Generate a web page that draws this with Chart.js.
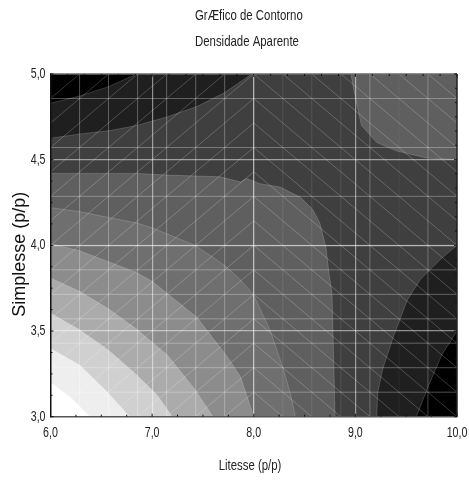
<!DOCTYPE html>
<html><head><meta charset="utf-8">
<style>html,body{margin:0;padding:0;background:#fff}canvas{display:block}</style>
<script src="https://cdn.jsdelivr.net/npm/chart.js@4"></script>
</head><body><canvas id="c" width="469" height="483"></canvas>
<script>
const titleLines = ['GrÆfico de Contorno', 'Densidade Aparente'];
const xAxisTitle = 'Litesse (p/p)';
const yAxisTitle = 'Simplesse (p/p)';
const xTickValues = [6, 7, 8, 9, 10];
const xTickLabels = ['6,0', '7,0', '8,0', '9,0', '10,0'];
const yTickValues = [3, 3.5, 4, 4.5, 5];
const yTickLabels = ['3,0', '3,5', '4,0', '4,5', '5,0'];

// Surface mesh positions (data units)
const meshX = [6, 6.286, 6.571, 6.857, 7.143, 7.429, 7.714, 8, 8.286, 8.571, 8.857, 9.143, 9.429, 9.714, 10];
const meshY = [3, 3.143, 3.286, 3.429, 3.571, 3.714, 3.857, 4, 4.143, 4.286, 4.429, 4.571, 4.714, 4.857, 5];
const meshXVisible = [6.286, 6.571, 6.857, 7.143, 7.429, 7.714, 8, 8.286, 8.571, 8.857, 9.143, 9.429, 9.714];
const meshXStrength = [0.3, 0.3, 0.3, 0.3, 0.3, 0.3, 0.3, 0.1, 0.1, 0.1, 0.26, 0.05, 0.26];
const meshYVisible = [3.143, 3.286, 3.429, 3.571, 3.714, 3.857, 4, 4.286, 4.571, 4.857];

// Contour boundaries [x, y]; each one closes on a plot corner
const topBlackCurve = [[6,4.829],[6.29,4.872],[6.57,4.926],[6.85,5]];
const topDarkCurve = [[6,4.625],[6.29,4.65],[6.59,4.67],[6.85,4.70],[7,4.725],[7.15,4.75],[7.44,4.81],[7.71,4.89],[7.98,5]];
const topRightCurve = [[8.955,5],[8.997,4.87],[9.06,4.70],[9.21,4.60],[9.41,4.55],[9.70,4.51],[10,4.50]];
const rightDarkCurve = [[9.21,3],[9.22,3.14],[9.27,3.28],[9.37,3.46],[9.51,3.68],[9.64,3.80],[9.72,3.85],[9.86,3.93],[10,4]];
const rightBlackCurve = [[9.6,3],[9.72,3.18],[9.85,3.36],[10,3.5]];
const band5Curve = [[6,4.42],[6.85,4.42],[7.15,4.41],[7.67,4.40],[7.87,4.37],[7.93,4.39],[8.06,4.36],[8.26,4.34],[8.46,4.28],[8.58,4.21],[8.65,4.13],[8.71,3.99],[8.74,3.84],[8.77,3.72],[8.78,3.49],[8.8,3]];
const band6Curve = [[6,4.22],[6.28,4.197],[6.85,4.13],[7.01,4.10],[7.42,4.0],[7.6,3.93],[7.74,3.87],[7.87,3.798],[8,3.71],[8.16,3.505],[8.29,3.28],[8.36,3.135],[8.41,3]];
const band7Curve = [[6,4.01],[6.28,3.97],[6.59,3.90],[6.85,3.84],[7,3.79],[7.44,3.58],[7.74,3.35],[7.87,3.232],[8,3]];
const band8Curve = [[6,3.81],[6.29,3.73],[6.57,3.63],[6.85,3.51],[7.15,3.36],[7.42,3.16],[7.6,3]];
const band9Curve = [[6,3.605],[6.29,3.506],[6.57,3.389],[6.85,3.243],[7.05,3.127],[7.2,3]];
const band10Curve = [[6,3.40],[6.29,3.30],[6.55,3.15],[6.78,3]];
const band11Curve = [[6,3.2],[6.2,3.11],[6.39,3]];

const baseFill = '#3f3f3f';
const bands = [
  {curve: topDarkCurve, corner: [[6,5]], color: '#1f1f1f'},
  {curve: topBlackCurve, corner: [[6,5]], color: '#000000'},
  {curve: topRightCurve, corner: [[10,5]], color: '#5f5f5f'},
  {curve: rightDarkCurve, corner: [[10,3]], color: '#1f1f1f'},
  {curve: rightBlackCurve, corner: [[10,3]], color: '#000000'},
  {curve: band5Curve, corner: [[6,3]], color: '#5f5f5f'},
  {curve: band6Curve, corner: [[6,3]], color: '#6f6f6f'},
  {curve: band7Curve, corner: [[6,3]], color: '#8c8c8c'},
  {curve: band8Curve, corner: [[6,3]], color: '#ababab'},
  {curve: band9Curve, corner: [[6,3]], color: '#d0d0d0'},
  {curve: band10Curve, corner: [[6,3]], color: '#eeeeee'},
  {curve: band11Curve, corner: [[6,3]], color: '#ffffff'}
];

const narrow = '"Liberation Sans Narrow","Liberation Sans",sans-serif';
const canvas = document.getElementById('c');
const ctx2d = canvas.getContext('2d');
// No condensed face is installed: squeeze the narrow text horizontally as it is drawn.
const nativeFillText = ctx2d.fillText.bind(ctx2d);
const textShift = {[titleLines[0]]: 187, [titleLines[1]]: 187, [xAxisTitle]: -3.75, [yAxisTitle]: -9};
ctx2d.fillText = function (text, x, y) {
  const px = x + (textShift[text] || 0);
  if (ctx2d.font.includes('Narrow')) {
    ctx2d.save();
    ctx2d.translate(px, y);
    ctx2d.scale(0.76, 1);
    nativeFillText(text, 0, 0);
    ctx2d.restore();
  } else {
    nativeFillText(text, px, y);
  }
};

const toPts = a => a.map(p => ({x: p[0], y: p[1]}));
const datasets = [];
let ord = 100000;
function add(points, o) {
  datasets.push(Object.assign({type: 'line', data: toPts(points), parsing: false, pointRadius: 0, tension: 0, fill: false, order: ord--, borderWidth: 0}, o));
}
add([[6,3],[10,3],[10,5],[6,5]], {fill: 'shape', backgroundColor: baseFill, borderColor: baseFill});
bands.forEach(b => add(b.curve.concat(b.corner), {fill: 'shape', backgroundColor: b.color, borderColor: b.color}));
bands.forEach(b => add(b.curve, {borderColor: 'rgba(255,255,255,0.22)', borderWidth: 0.8}));
meshXVisible.forEach((x, i) => add([[x,3],[x,5]], {borderColor: `rgba(255,255,255,${meshXStrength[i]})`, borderWidth: 1}));
meshYVisible.forEach(y => add([[6,y],[10,y]], {borderColor: 'rgba(255,255,255,0.3)', borderWidth: 1}));
const diagStyle = {borderColor: 'rgba(255,255,255,0.36)', borderWidth: 0.6};
for (let i = 0; i < meshX.length - 1; i++) {
  for (let j = 0; j < meshY.length - 1; j++) {
    if (meshX[i] < 8) add([[meshX[i],meshY[j]],[meshX[i+1],meshY[j+1]]], diagStyle);
    else add([[meshX[i],meshY[j+1]],[meshX[i+1],meshY[j]]], diagStyle);
  }
}

const tickMarks = {
  id: 'tickMarks',
  afterDraw(chart) {
    const {ctx, chartArea: a, scales: {x, y}} = chart;
    ctx.save();
    const seg = (x1, y1, x2, y2) => { ctx.beginPath(); ctx.moveTo(x1, y1); ctx.lineTo(x2, y2); ctx.stroke(); };
    ctx.lineWidth = 1.5;
    ctx.strokeStyle = '#6a6a6a'; seg(a.left, a.top, a.right, a.top);
    ctx.strokeStyle = '#222'; seg(a.right, a.top, a.right, a.bottom);
    ctx.lineWidth = 1;
    ctx.strokeStyle = '#111';
    for (let i = 0; i <= 16; i++) { const p = x.getPixelForValue(6 + i * 0.25); seg(p, a.bottom, p, a.bottom - (i % 4 ? 2 : 3)); }
    for (let i = 0; i <= 24; i++) { const p = x.getPixelForValue(6 + i / 6); seg(p, a.top, p, a.top + (i % 6 ? 2 : 3)); }
    for (let i = 0; i <= 16; i++) { const p = y.getPixelForValue(3 + i * 0.125); seg(a.left, p, a.left + (i % 4 ? 2 : 3), p); }
    for (let i = 0; i <= 24; i++) { const p = y.getPixelForValue(3 + i / 12); seg(a.right, p, a.right - (i % 6 ? 2 : 3), p); }
    ctx.restore();
  }
};
const gridColor = 'rgba(255,255,255,0.5)';
new Chart(canvas, {
  type: 'line',
  data: {datasets},
  plugins: [tickMarks],
  options: {
    responsive: false, animation: false, devicePixelRatio: 1,
    layout: {padding: {left: 8, right: 12, top: 0, bottom: 8}},
    plugins: {
      legend: {display: false}, tooltip: {enabled: false},
      title: {display: true, align: 'start', text: titleLines, color: '#222', font: {family: narrow, size: 15, weight: 'normal', lineHeight: 1.733}, padding: {top: 3, bottom: 19}}
    },
    scales: {
      x: {
        type: 'linear', min: 6, max: 10,
        afterBuildTicks: s => { s.ticks = xTickValues.map(v => ({value: v})); },
        afterFit: s => { s.height = 58.3; s.paddingLeft = 0; s.paddingRight = 0; },
        grid: {color: c => (c.tick && (c.tick.value === 6 || c.tick.value === 10)) ? 'rgba(0,0,0,0)' : gridColor, lineWidth: 1.2, drawTicks: false, z: 1},
        border: {color: '#555', width: 1.5, z: 2},
        ticks: {autoSkip: false, maxRotation: 0, padding: 8, color: '#222', font: {family: narrow, size: 14},
          callback: v => xTickLabels[xTickValues.indexOf(v)]},
        title: {display: true, text: xAxisTitle, color: '#222', font: {family: narrow, size: 15}, padding: {top: 14, bottom: 0}}
      },
      y: {
        type: 'linear', min: 3, max: 5,
        afterBuildTicks: s => { s.ticks = yTickValues.map(v => ({value: v})); },
        afterFit: s => { s.width = 42.5; s.paddingTop = 0; s.paddingBottom = 0; },
        grid: {color: c => (c.tick && (c.tick.value === 3 || c.tick.value === 5)) ? 'rgba(0,0,0,0)' : gridColor, lineWidth: 1.2, drawTicks: false, z: 1},
        border: {color: '#111', width: 1.5, z: 2},
        ticks: {autoSkip: false, padding: 5, color: '#222', font: {family: narrow, size: 14},
          callback: v => yTickLabels[yTickValues.indexOf(v)]},
        title: {display: true, text: yAxisTitle, color: '#111', font: {family: '"Liberation Sans",sans-serif', size: 18}, padding: {top: 1, bottom: 0}}
      }
    }
  }
});
</script></body></html>
